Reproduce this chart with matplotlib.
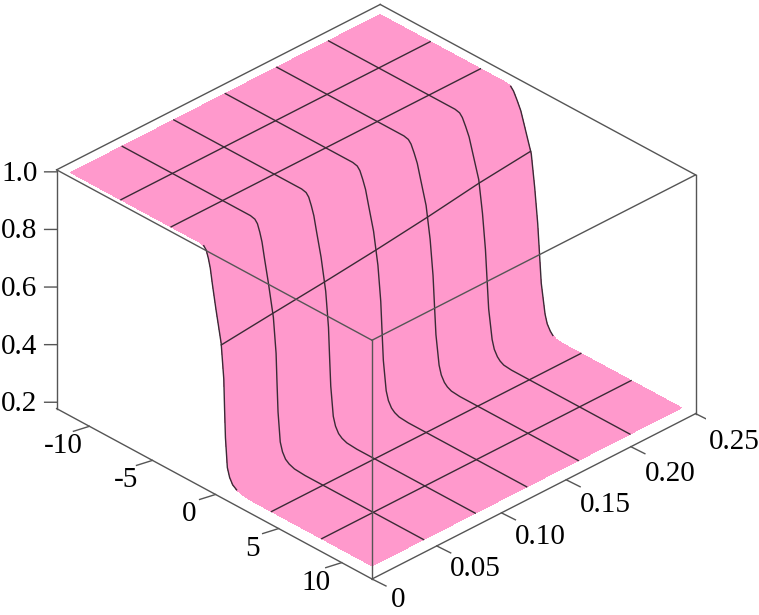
import numpy as np
import matplotlib
matplotlib.use("Agg")
import matplotlib.pyplot as plt
from mpl_toolkits.mplot3d import proj3d

# ---- data ----
y_lines = [0.005, 0.0448, 0.0847, 0.1245, 0.1643, 0.2042, 0.244]
x_lines = [-12, -8.02, -4.04, -0.06, 3.92, 7.90, 11.89]
profile_z = [1.0, 1.0, 0.996, 0.985, 0.96, 0.93, 0.88, 0.80, 0.69, 0.57, 0.47, 0.37, 0.27, 0.24, 0.22, 0.21, 0.203, 0.2, 0.2]
front_x = [-12, -1.8, -1.45, -1.25, -1.08, -0.93, -0.77, -0.49, -0.07, 0.14, 0.20, 0.27, 0.42, 0.60, 0.84, 1.15, 1.6, 2.5, 11.89]
back_x = [-12, -2.0, -1.64, -1.42, -1.14, -0.84, -0.52, -0.01, 0.26, 0.50, 0.64, 0.78, 1.08, 1.25, 1.50, 1.7, 1.95, 2.5, 11.89]
x_ticks = [-10, -5, 0, 5, 10]
x_ticklabels = ["-10", "-5", "0", "5", "10"]
y_ticks = [0, 0.05, 0.10, 0.15, 0.20, 0.25]
y_ticklabels = ["0", "0.05", "0.10", "0.15", "0.20", "0.25"]
z_ticks = [1.0, 0.8, 0.6, 0.4, 0.2]
z_ticklabels = ["1.0", "0.8", "0.6", "0.4", "0.2"]

XLIM = (-12.6, 12.4)
YLIM = (0.0, 0.25)
ZLIM = (0.178, 1.007)
PINK = "#FF99CC"
LINE = "#3a2a35"
BOX = "#555555"
FONT = ["Liberation Serif", "DejaVu Serif"]

W, H = 759, 615
fig = plt.figure(figsize=(W / 100, H / 100), dpi=100)
S = 700.0
ax = fig.add_axes([0, 0, S / W, S / H], projection="3d", computed_zorder=False)
ax.set_proj_type("ortho")
ax.view_init(elev=31.7, azim=-44.2)
ax.set_box_aspect((453.0, 452.0, 281.0))
ax.set_xlim(*XLIM)
ax.set_ylim(*YLIM)
ax.set_zlim(*ZLIM)
ax.set_axis_off()
ax.patch.set_alpha(0)


def to_px(x, y, z):
    a, b, _ = proj3d.proj_transform(x, y, z, ax.get_proj())
    return ax.transData.transform((a, b))


# place the axes so that the box corners land where the reference has them
fig.canvas.draw()
left = to_px(XLIM[0], YLIM[0], ZLIM[0])
right = to_px(XLIM[1], YLIM[1], ZLIM[0])
S = S * 639.0 / (right[0] - left[0])
ax.set_position([0, 0, S / W, S / H])
fig.canvas.draw()
front = to_px(XLIM[1], YLIM[0], ZLIM[0])
ll, bb = 372 - front[0], (H - 579) - front[1]
ax.set_position([ll / W, bb / H, S / W, S / H])
fig.canvas.draw()

PX_X = (XLIM[1] - XLIM[0]) / 316.0
PX_Z = (ZLIM[1] - ZLIM[0]) / 239.0


def shift(x, y, z, dp, dv):
    """move a 3D point by dp pixels right and dv pixels down"""
    return x + dp * PX_X, y, z - (dv - dp * 0.541) * PX_Z


def label(p, dp, dv, s, ha):
    """real figure text placed dp pixels right and dv pixels down of a 3D point"""
    px = to_px(*p)
    fig.text((px[0] + dp) / W, (px[1] - dv) / H, s, ha=ha, va="center",
             fontsize=21, family=FONT, color="black", zorder=10)


# surface
front_arr = np.array(front_x)
back_arr = np.array(back_x)
z_arr = np.array(profile_z)
y_arr = np.array(y_lines)
t = (y_arr - y_arr[0]) / (y_arr[-1] - y_arr[0])
X = np.outer(front_arr, 1 - t) + np.outer(back_arr, t)
Y = np.tile(y_arr, (len(z_arr), 1))
Z = np.tile(z_arr[:, None], (1, len(y_arr)))
ax.plot_surface(X, Y, Z, rstride=1, cstride=1, color=PINK, shade=False,
                linewidth=0, antialiased=False, zorder=1)

# mesh: curves of constant y
for j in range(len(y_lines)):
    if j in (0, len(y_lines) - 1):
        keep = slice(2, -3)
    else:
        keep = slice(None)
    ax.plot(X[keep, j], Y[keep, j], Z[keep, j], color=LINE, lw=1.0, zorder=2)

# mesh: lines of constant x
for xv in x_lines[1:-1]:
    zv = [np.interp(xv, X[:, j], z_arr) for j in range(len(y_lines))]
    ax.plot([xv] * len(y_lines), y_lines, zv, color=LINE, lw=1.0, zorder=2)

# box
x0, x1 = XLIM
y0, y1 = YLIM
z0, z1 = ZLIM
edges = [
    ((x0, y0, z1), (x1, y0, z1)), ((x1, y0, z1), (x1, y1, z1)),
    ((x1, y1, z1), (x0, y1, z1)), ((x0, y1, z1), (x0, y0, z1)),
    ((x0, y0, z0), (x0, y0, z1)), ((x1, y0, z0), (x1, y0, z1)),
    ((x1, y1, z0), (x1, y1, z1)),
    ((x0, y0, z0), (x1, y0, z0)), ((x1, y0, z0), (x1, y1, z0)),
]
for p, q in edges:
    ax.plot(*zip(p, q), color=BOX, lw=1.0, zorder=3)

# ticks and labels
for v, s in zip(x_ticks, x_ticklabels):
    p = (v, y0, z0)
    ax.plot(*zip(p, shift(*p, -16, 5)), color=BOX, lw=1.0, zorder=3)
    label(p, -26, 20, s, "center")
for v, s in zip(y_ticks, y_ticklabels):
    p = (x1, v, z0)
    ax.plot(*zip(p, shift(*p, 14, 7)), color=BOX, lw=1.0, zorder=3)
    dp, dv = (26, 21) if s == "0" else (39, 22 + 24 * v)
    label(p, dp, dv, s, "center")
for v, s in zip(z_ticks, z_ticklabels):
    p = (x0, y0, v)
    ax.plot(*zip(p, shift(*p, -12, 0)), color=BOX, lw=1.0, zorder=3)
    label(p, -19, 2, s, "right")

fig.savefig("out.png", dpi=100)
